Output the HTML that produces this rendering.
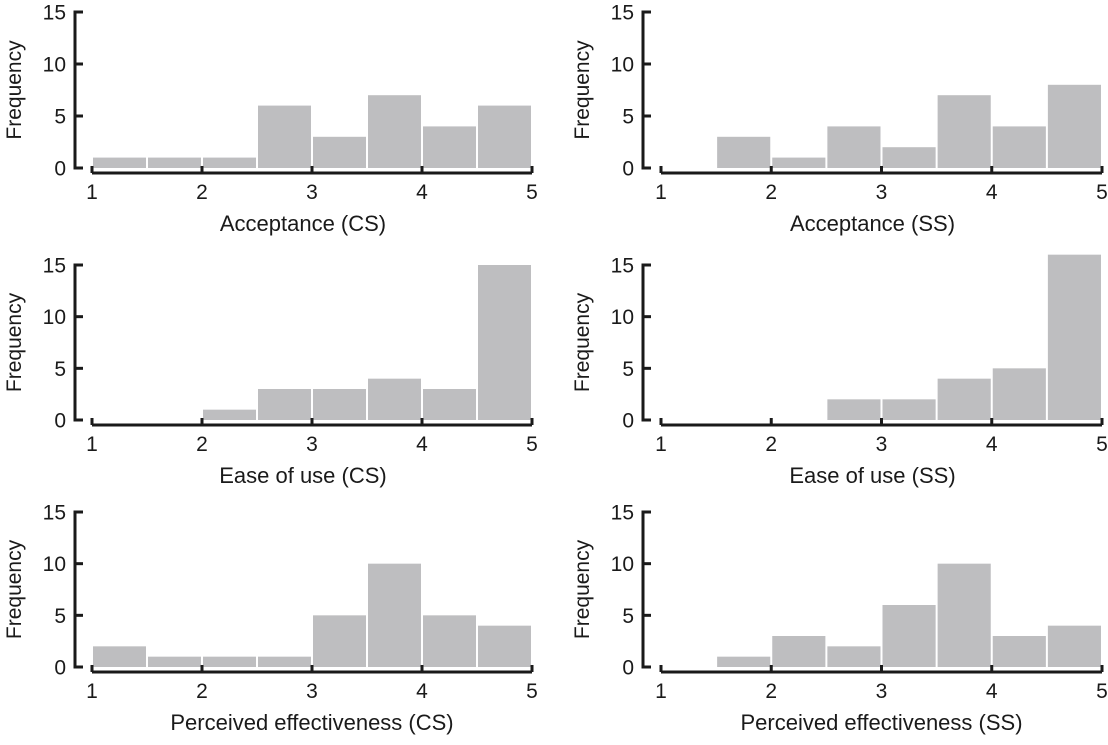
<!DOCTYPE html>
<html><head><meta charset="utf-8"><style>
body{margin:0;background:#fff;}
svg text{font-family:"Liberation Sans",sans-serif;fill:#1a1a1a;}
</style></head><body>
<svg id="c" width="1108" height="740"></svg>
<script>
const binStarts=[1,1.5,2,2.5,3,3.5,4,4.5];
const accCS=[1,1,1,6,3,7,4,6];
const accSS=[0,3,1,4,2,7,4,8];
const easeCS=[0,0,1,3,3,4,3,15];
const easeSS=[0,0,0,2,2,4,5,16];
const peCS=[2,1,1,1,5,10,5,4];
const peSS=[0,1,3,2,6,10,3,4];
const yTicks=[0,5,10,15];
const xTicks=[1,2,3,4,5];
const titles=["Acceptance (CS)","Acceptance (SS)","Ease of use (CS)","Ease of use (SS)","Perceived effectiveness (CS)","Perceived effectiveness (SS)"];
const series=[accCS,accSS,easeCS,easeSS,peCS,peSS];
const NS="http://www.w3.org/2000/svg";
const svg=document.getElementById('c');
function mk(t,a,p){const e=document.createElementNS(NS,t);for(const k in a)e.setAttribute(k,a[k]);(p||svg).appendChild(e);return e;}
const rowsZero=[168,420,667], rowsTop=[12,265,512];
const colX1=[92,661], colX5=[532,1102], colAxis=[75,643];
series.forEach((vals,i)=>{
  const r=Math.floor(i/2), c=i%2;
  const y0=rowsZero[r], yT=rowsTop[r];
  const ys=v=>y0-(v/15)*(y0-yT);
  const xs=v=>colX1[c]+(v-1)*(colX5[c]-colX1[c])/4;
  const g=mk('g',{});
  
  
  vals.forEach((v,j)=>{
    if(v<=0)return;
    const x=xs(binStarts[j]), w=xs(binStarts[j]+0.5)-x;
    const b=mk('rect',{x:x+1,y:ys(v),width:w-2,height:y0-ys(v),fill:'#bebec0'},g);
    
    
  });
  const ax=colAxis[c];
  const ya=mk('line',{x1:ax,x2:ax,y1:yT-1.5,y2:y0+1.5,stroke:'#1a1a1a','stroke-width':3},g);
  
  
  yTicks.forEach(t=>{
    mk('line',{x1:ax,x2:ax+8,y1:ys(t),y2:ys(t),stroke:'#1a1a1a','stroke-width':3},g);
    const tl=mk('text',{x:ax-9,y:ys(t)+7.5,'text-anchor':'end','font-size':21},g);
    tl.textContent=t;
    
    
  });
  const xa=y0+5;
  const xl=mk('line',{x1:xs(1),x2:xs(5),y1:xa,y2:xa,stroke:'#1a1a1a','stroke-width':3},g);
  
  
  xTicks.forEach(t=>{
    mk('line',{x1:xs(t),x2:xs(t),y1:xa,y2:xa-7,stroke:'#1a1a1a','stroke-width':3},g);
    const tl=mk('text',{x:xs(t),y:xa+26,'text-anchor':'middle','font-size':21},g);
    tl.textContent=t;
    
    
  });
  const at=mk('text',{x:(xs(1)+xs(5))/2-(r<2?9:0),y:y0+63,'text-anchor':'middle','font-size':22},g);
  at.textContent=titles[i];
  
  
  const fx=c==0?21:589, fy=(y0+yT)/2;
  const ft=mk('text',{x:fx,y:fy,'text-anchor':'middle','font-size':21,transform:`rotate(-90 ${fx} ${fy})`},g);
  ft.textContent='Frequency';
  
  
});
</script>
</body></html>
